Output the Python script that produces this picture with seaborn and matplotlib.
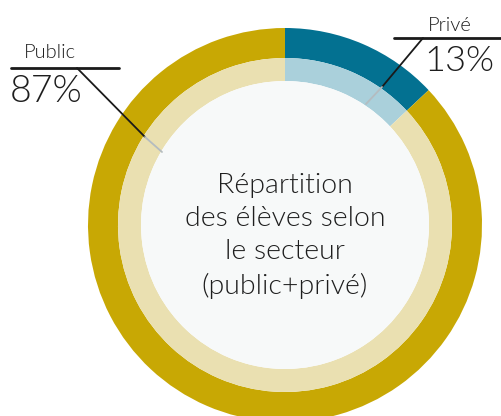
import numpy as np
import matplotlib.pyplot as plt
import seaborn as sns

# data
sectors = ['Privé', 'Public']
shares = [13, 87]
outer_colors = ['#037191', '#C8A804']
inner_colors = ['#AAD0DB', '#EAE0B1']
center_lines = ['Répartition', 'des élèves selon', 'le secteur', '(public+privé)']

sns.set_theme(style='white')
plt.rcParams['font.family'] = ['Lato', 'DejaVu Sans']

W, H = 502, 416
fig = plt.figure(figsize=(W / 100, H / 100), dpi=100)
ax = fig.add_axes([0, 0, 1, 1])
ax.set_xlim(0, W)
ax.set_ylim(0, H)
ax.set_aspect('equal')
ax.axis('off')

cx, cy = 285, H - 225
r_out, r_mid, r_in = 197, 167, 144

# outer ring
ax.pie(shares, colors=outer_colors, radius=r_out, center=(cx, cy),
       startangle=90, counterclock=False,
       wedgeprops=dict(width=r_out - r_mid, linewidth=0))
# inner ring
ax.pie(shares, colors=inner_colors, radius=r_mid, center=(cx, cy),
       startangle=90, counterclock=False,
       wedgeprops=dict(width=r_mid - r_in, linewidth=0))
# center disk
ax.pie([1], colors=['#F7F9F9'], radius=r_in, center=(cx, cy),
       wedgeprops=dict(linewidth=0))
ax.set_xlim(0, W)
ax.set_ylim(0, H)

txt = dict(color='#1e1e1e', fontweight=300)

ax.text(cx, H - 236, '\n'.join(center_lines), ha='center', va='center',
        fontsize=20.5, linespacing=1.4, **txt)

# labels with leader lines (pixel layout, y flipped)
def leader(hx0, hx1, hy, start, mid, end):
    ax.plot([hx0, hx1], [H - hy, H - hy], color='#1a1a1a', lw=2)
    ax.plot([start[0], mid[0]], [H - start[1], H - mid[1]], color='#1a1a1a', lw=1.3)
    ax.plot([mid[0], end[0]], [H - mid[1], H - end[1]], color='#B4BCC0', lw=1.3)

leader(11, 119, 68, (77, 68), (145, 137), (162, 152))
leader(394, 502, 38, (423, 38), (382, 87), (366, 104))

ax.text(24, H - 58, sectors[1], fontsize=14.5, va='baseline', **txt)
ax.text(10, H - 102, f'{shares[1]}%', fontsize=27, va='baseline', **txt)
ax.text(428, H - 31, sectors[0], fontsize=14.5, va='baseline', **txt)
ax.text(424, H - 71, f'{shares[0]}%', fontsize=26, va='baseline', **txt)

fig.savefig('out.png', dpi=100, facecolor='white')
